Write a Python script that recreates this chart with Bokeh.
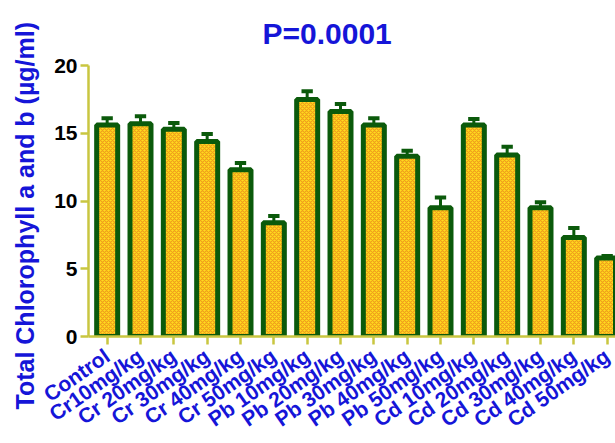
from bokeh.plotting import figure
from bokeh.models import FixedTicker, Range1d, Title
from bokeh.embed import file_html
from bokeh.resources import INLINE

categories = ["Control", "Cr10mg/kg", "Cr 20mg/kg", "Cr 30mg/kg", "Cr 40mg/kg", "Cr 50mg/kg",
              "Pb 10mg/kg", "Pb 20mg/kg", "Pb 30mg/kg", "Pb 40mg/kg", "Pb 50mg/kg",
              "Cd 10mg/kg", "Cd 20mg/kg", "Cd 30mg/kg", "Cd 40mg/kg", "Cd 50mg/kg"]
values = [15.6, 15.7, 15.3, 14.4, 12.3, 8.4, 17.5, 16.6, 15.6, 13.3, 9.5, 15.6, 13.4, 9.5, 7.3, 5.8]
errors = [0.5, 0.55, 0.45, 0.55, 0.5, 0.5, 0.6, 0.55, 0.5, 0.4, 0.75, 0.45, 0.6, 0.4, 0.7, 0.15]
y_ticks = [0, 5, 10, 15, 20]

xs = list(range(len(categories)))
tops = [v + e for v, e in zip(values, errors)]

AXIS = "#c9c640"
GREEN = "#0b5a0b"
BLUE = "#1515d8"
FONT = "Liberation Sans"

p = figure(width=615, height=443, output_backend="svg", toolbar_location=None,
           x_range=Range1d(-0.56, 15.25), y_range=Range1d(0, 20),
           min_border_left=88, min_border_right=0, min_border_top=65, min_border_bottom=106)
p.title = Title(text="P=0.0001", align="left", vertical_align="top", text_font=FONT,
                text_font_size="30px", text_color=BLUE, text_font_style="bold",
                standoff=28, offset=174)
p.outline_line_color = None
p.grid.visible = False

p.vbar(x=xs, top=values, bottom=0, width=0.63, fill_color="#ffdc1e",
       hatch_pattern="diagonal_cross", hatch_color="#f0a01a", hatch_scale=4, hatch_weight=1.2,
       line_color=GREEN, line_width=5)
p.segment(x0=xs, y0=values, x1=xs, y1=tops, line_color=GREEN, line_width=3)
p.segment(x0=[x - 0.17 for x in xs], y0=tops, x1=[x + 0.17 for x in xs], y1=tops,
          line_color=GREEN, line_width=4)

p.xaxis.ticker = FixedTicker(ticks=xs)
p.xaxis.major_label_overrides = {i: c for i, c in enumerate(categories)}
p.xaxis.major_label_orientation = 0.61
p.xaxis.major_label_standoff = 9
p.yaxis.ticker = FixedTicker(ticks=y_ticks)
p.yaxis.major_label_standoff = 3

for ax in (p.xaxis[0], p.yaxis[0]):
    ax.axis_line_color = AXIS
    ax.axis_line_width = 2.5
    ax.major_tick_line_color = AXIS
    ax.major_tick_line_width = 2.5
    ax.major_tick_in = 0
    ax.major_tick_out = 8
    ax.minor_tick_line_color = None
    ax.major_label_text_font = FONT
    ax.major_label_text_font_style = "bold"

p.xaxis.major_label_text_color = BLUE
p.xaxis.major_label_text_font_size = "21px"
p.yaxis.major_label_text_color = "black"
p.yaxis.major_label_text_font_size = "21px"

ylab = Title(text="Total Chlorophyll a and b (µg/ml)", align="left", vertical_align="top",
             text_font=FONT, text_font_size="25px", text_color=BLUE, text_font_style="bold",
             standoff=21, offset=-73)
p.add_layout(ylab, "left")

open("out.html", "w").write(file_html(p, INLINE))
